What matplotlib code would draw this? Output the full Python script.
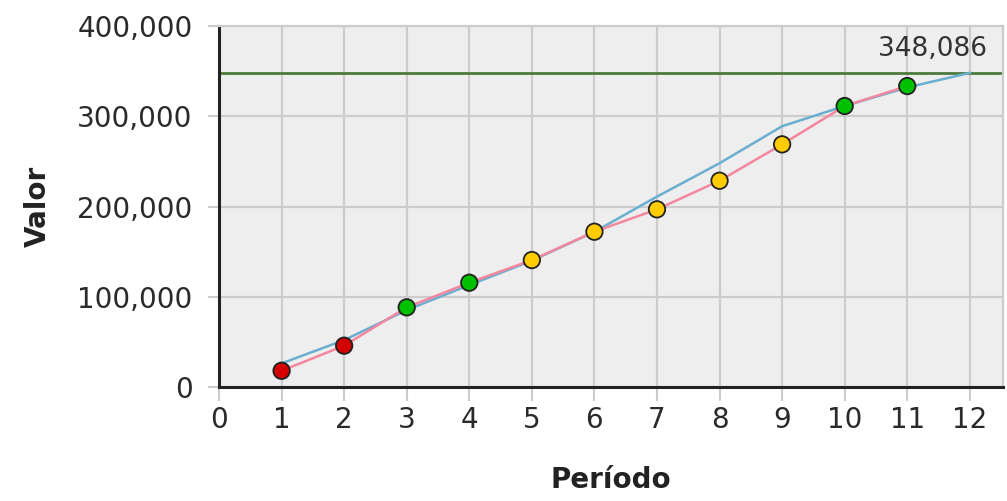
import numpy as np
import matplotlib.pyplot as plt
from matplotlib.ticker import FuncFormatter

# data
periodos = [1, 2, 3, 4, 5, 6, 7, 8, 9, 10, 11]
valores = [18000, 45800, 88300, 115600, 140700, 172100, 196900, 228600, 268900, 311400, 333500]
colores = ['#d40000', '#d40000', '#00c000', '#00c000', '#ffcc00', '#ffcc00',
           '#ffcc00', '#ffcc00', '#ffcc00', '#00c000', '#00c000']

periodos_meta = [1, 2, 3, 4, 5, 6, 7, 8, 9, 10, 11, 12]
valores_meta = [26200, 52000, 85300, 113000, 140000, 172000, 211000, 248000, 289000, 311400, 332000, 348086]

objetivo = 348086

fig = plt.figure(figsize=(10.07, 5.01), dpi=100)
ax = fig.add_axes([0.2175, 0.2275, 0.7785, 0.7205])
ax.set_facecolor('#eeeeee')

ax.plot(periodos_meta, valores_meta, color='#6aaed0', lw=1.8, zorder=3)
ax.plot(periodos, valores, color='#f4879e', lw=1.8, zorder=4)
ax.scatter(periodos, valores, s=140, c=colores, edgecolors='#222222', linewidths=1.3, zorder=5)

ax.axhline(objetivo, color='#4d7a3c', lw=2, zorder=2)
ax.annotate('{:,}'.format(objetivo), xy=(12.27, objetivo), xytext=(0, 8),
            textcoords='offset points', ha='right', va='bottom',
            fontsize=19, color='#333333', zorder=6)

ax.set_xlim(0, 12.53)
ax.set_ylim(0, 400000)
ax.set_xticks(range(0, 13))
ax.set_yticks([0, 100000, 200000, 300000, 400000])
ax.yaxis.set_major_formatter(FuncFormatter(lambda v, p: '{:,.0f}'.format(v)))

ax.grid(True, color='#cccccc', lw=1.6, zorder=0)
ax.set_axisbelow(True)

for s in ['top', 'right']:
    ax.spines[s].set_color('#cccccc')
    ax.spines[s].set_linewidth(1.6)
for s in ['left', 'bottom']:
    ax.spines[s].set_color('#222222')
    ax.spines[s].set_linewidth(2.2)

ax.tick_params(axis='x', length=10, width=1.5, color='#cccccc', labelsize=20,
               labelcolor='#2a2a2a', pad=4)
ax.tick_params(axis='y', length=8, width=1.5, color='#cccccc', labelsize=20,
               labelcolor='#2a2a2a', pad=11)

ax.set_xlabel('Período', fontsize=20, fontweight='bold', color='#222222', labelpad=23)
ax.set_ylabel('Valor', fontsize=20, fontweight='bold', color='#222222', labelpad=18)

fig.savefig('out.png', dpi=100)
